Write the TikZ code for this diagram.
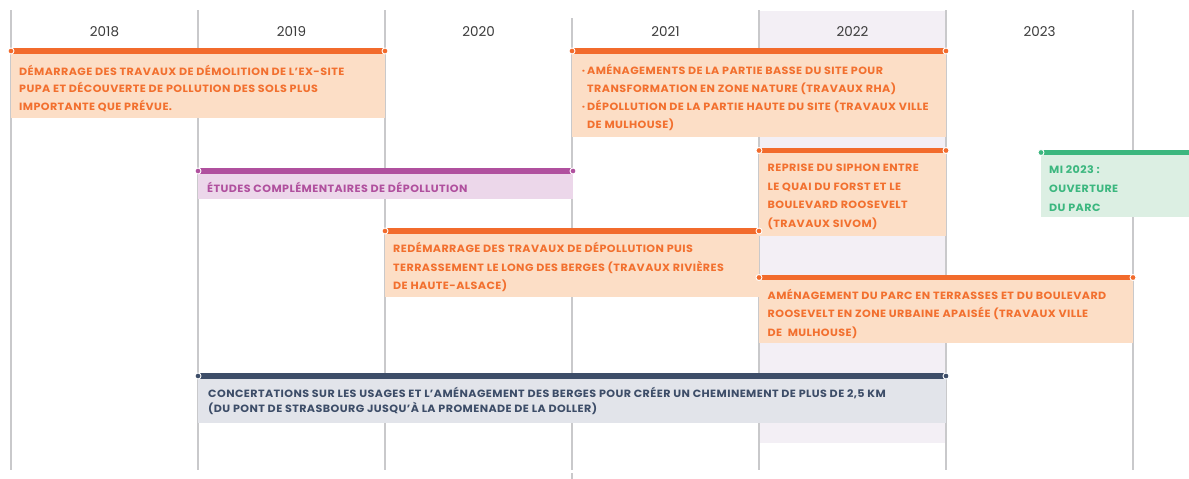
\documentclass[tikz,border=0pt]{standalone}
\usepackage{fontspec}
\setmainfont{Poppins}
\newfontfamily\boxfont[FakeStretch=1.06, LetterSpace=4]{Poppins}
\usetikzlibrary{calc}

\definecolor{gridgray}{HTML}{C9C9CB}
\definecolor{yeargray}{HTML}{3A3A3A}
\definecolor{colshade}{HTML}{F3EFF5}
\definecolor{orangebar}{HTML}{F26B2C}
\definecolor{orangefill}{HTML}{FCDEC6}
\definecolor{orangetext}{HTML}{F2702F}
\definecolor{purplebar}{HTML}{B0509E}
\definecolor{purplefill}{HTML}{ECD7EA}
\definecolor{greenbar}{HTML}{3CB77F}
\definecolor{greenfill}{HTML}{DCEFE3}
\definecolor{navybar}{HTML}{3D4D68}
\definecolor{navyfill}{HTML}{E2E4EA}

% base anchor of a multi-line node sits on its last line
\newcommand{\boxfontsize}[1]{\boxfont\bfseries\fontsize{10.5}{#1}\selectfont}

\tikzset{
	yearline/.style={draw=gridgray, line width=1.2pt},
	yeartext/.style={font=\fontsize{13.5}{13.5}\selectfont, text=yeargray},
	bar/.style={line width=5.3pt},
	enddot/.style={draw=white, line width=0.9pt},
	boxtext/.style={anchor=base west, inner sep=0pt, align=left, font=\boxfontsize{18.5}},
}

\begin{document}
\begin{tikzpicture}[x=1pt, y=-1pt]
			\useasboundingbox (0,0) rectangle (1189,479);

			% year grid
			\begin{scope}
				\fill[colshade] (759,11) rectangle (946,443);
				\foreach \x/\ytop in {11/10,198/10,385/10,572/18,759/10,946/10,1133/10}
				{
					\draw[yearline] (\x,\ytop) -- (\x,470);
				}
				\draw[yearline] (572,473) -- (572,479);
				\foreach \yr [count=\i from 0] in {2018,...,2023}
				{
					\node[yeartext] (y\yr) at ({104.5+187*\i},32) {\yr};
				}
			\end{scope}

			% 2018-2019
			\begin{scope}
				\coordinate (demA) at (11,51);
				\coordinate (demB) at (385,51);
				\fill[orangefill] (demA) rectangle (385,118);
				\draw[bar, orangebar] (demA) -- (demB);
				\foreach \p in {demA,demB}
				{
					\filldraw[enddot, fill=orangebar] (\p) circle (3);
				}
				\node[boxtext, text=orangetext, font=\boxfontsize{17.8}] (dem) at (19,110.6)
					{DÉMARRAGE DES TRAVAUX DE DÉMOLITION DE L’EX-SITE\\
					 PUPA ET DÉCOUVERTE DE POLLUTION DES SOLS PLUS\\
					 IMPORTANTE QUE PRÉVUE.};
			\end{scope}

			% 2021-2022
			\begin{scope}
				\coordinate (rhaA) at (572,51);
				\coordinate (rhaB) at (946,51);
				\fill[orangefill] (rhaA) rectangle (946,137);
				\draw[bar, orangebar] (rhaA) -- (rhaB);
				\foreach \p in {rhaA,rhaB}
				{
					\filldraw[enddot, fill=orangebar] (\p) circle (3);
				}
				\node[boxtext, text=orangetext, font=\boxfontsize{18.25}] (rha) at (587,128.8)
					{\llap{·\hspace{2pt}}AMÉNAGEMENTS DE LA PARTIE BASSE DU SITE POUR\\
					 TRANSFORMATION EN ZONE NATURE (TRAVAUX RHA)\\
					 \llap{·\hspace{2pt}}DÉPOLLUTION DE LA PARTIE HAUTE DU SITE (TRAVAUX VILLE\\
					 DE MULHOUSE)};
			\end{scope}

			% etudes
			\begin{scope}
				\coordinate (etuA) at (198,171);
				\coordinate (etuB) at (573,171);
				\fill[purplefill] (etuA) rectangle (573,199);
				\draw[bar, purplebar] (etuA) -- (etuB);
				\foreach \p in {etuA,etuB}
				{
					\filldraw[enddot, fill=purplebar] (\p) circle (3);
				}
				\node[boxtext, text=purplebar] (etu) at (207,192.3)
					{ÉTUDES COMPLÉMENTAIRES DE DÉPOLLUTION};
			\end{scope}

			% siphon
			\begin{scope}
				\coordinate (sipA) at (759,150.5);
				\coordinate (sipB) at (946,150.5);
				\fill[orangefill] (sipA) rectangle (946,235.5);
				\draw[bar, orangebar] (sipA) -- (sipB);
				\foreach \p in {sipA,sipB}
				{
					\filldraw[enddot, fill=orangebar] (\p) circle (3);
				}
				\node[boxtext, text=orangetext, font=\boxfontsize{18.6}] (sip) at (767.5,227.5)
					{REPRISE DU SIPHON ENTRE\\
					 LE QUAI DU FORST ET LE\\
					 BOULEVARD ROOSEVELT\\
					 (TRAVAUX SIVOM)};
			\end{scope}

			% ouverture
			\begin{scope}
				\coordinate (parcA) at (1041,152.5);
				\coordinate (parcB) at (1189,152.5);
				\fill[greenfill] (parcA) rectangle (1189,217);
				\draw[bar, greenbar] (parcA) -- (parcB);
				\filldraw[enddot, fill=greenbar] (parcA) circle (3);
				\node[boxtext, text=greenbar, font=\boxfontsize{18.7}] (parc) at (1049,211)
					{MI 2023 :\\
					 OUVERTURE\\
					 DU PARC};
			\end{scope}

			% redemarrage
			\begin{scope}
				\coordinate (redA) at (385,231);
				\coordinate (redB) at (759,231);
				\fill[orangefill] (redA) rectangle (759,297);
				\draw[bar, orangebar] (redA) -- (redB);
				\foreach \p in {redA,redB}
				{
					\filldraw[enddot, fill=orangebar] (\p) circle (3);
				}
				\node[boxtext, text=orangetext, font=\boxfontsize{18.7}] (red) at (393,289.7)
					{REDÉMARRAGE DES TRAVAUX DE DÉPOLLUTION PUIS\\
					 TERRASSEMENT LE LONG DES BERGES (TRAVAUX RIVIÈRES\\
					 DE HAUTE-ALSACE)};
			\end{scope}

			% terrasses
			\begin{scope}
				\coordinate (terA) at (759,277.5);
				\coordinate (terB) at (1133,277.5);
				\fill[orangefill] (terA) rectangle (1133,343);
				\draw[bar, orangebar] (terA) -- (terB);
				\foreach \p in {terA,terB}
				{
					\filldraw[enddot, fill=orangebar] (\p) circle (3);
				}
				\node[boxtext, text=orangetext, font=\boxfontsize{18.5}] (ter) at (767.5,336)
					{AMÉNAGEMENT DU PARC EN TERRASSES ET DU BOULEVARD\\
					 ROOSEVELT EN ZONE URBAINE APAISÉE (TRAVAUX VILLE\\
					 DE\ \ MULHOUSE)};
			\end{scope}

			% concertations
			\begin{scope}
				\coordinate (conA) at (198,376);
				\coordinate (conB) at (946,376);
				\fill[navyfill] (conA) rectangle (946,423);
				\draw[bar, navybar] (conA) -- (conB);
				\foreach \p in {conA,conB}
				{
					\filldraw[enddot, fill=navybar] (\p) circle (3);
				}
				\node[boxtext, text=navybar, font=\boxfontsize{15.4}] (con) at (208,412.7)
					{CONCERTATIONS SUR LES USAGES ET L’AMÉNAGEMENT DES BERGES POUR CRÉER UN CHEMINEMENT DE PLUS DE 2,5 KM\\
					 (DU PONT DE STRASBOURG JUSQU’À LA PROMENADE DE LA DOLLER)};
			\end{scope}
		\end{tikzpicture}
\end{document}
